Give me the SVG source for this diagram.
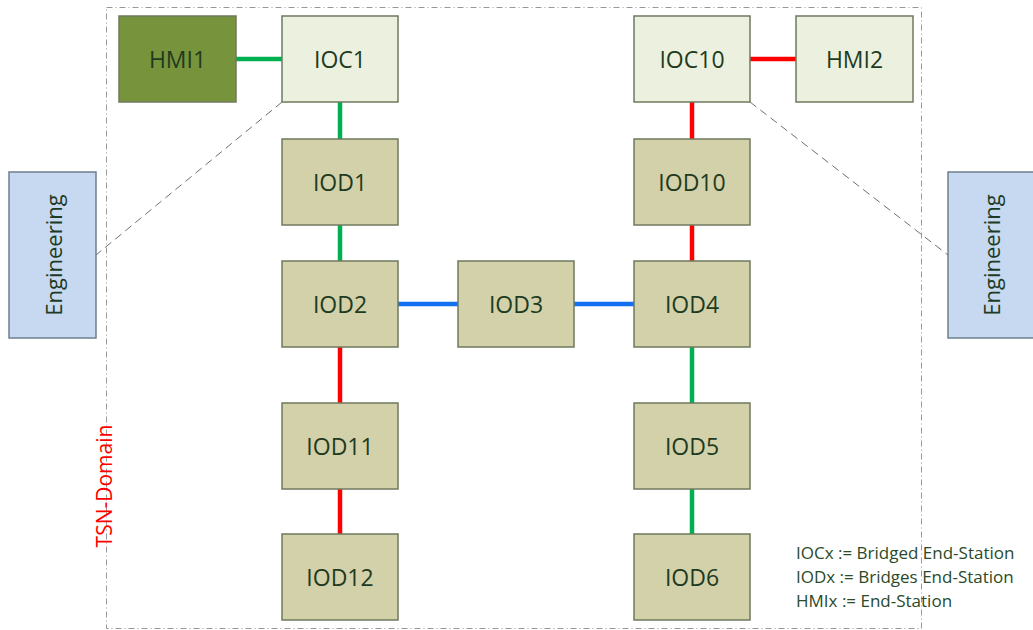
<svg xmlns="http://www.w3.org/2000/svg" width="1033" height="630" viewBox="0 0 1033 630">
<style>
.node{stroke:#6F7A5E;stroke-width:1.5}
.ioc{fill:#EBF1DE}
.iod{fill:#D3D1A9}
.hmi1{fill:#77933C}
.eng{fill:#C6D9F1;stroke:#6F7F8F;stroke-width:1.5}
.lbl{font-family:"Open Sans","Liberation Sans",sans-serif;font-size:23px;fill:#1F3B1F;text-anchor:middle;dominant-baseline:central}
.engl{font-family:"Open Sans","Liberation Sans",sans-serif;font-size:22px;fill:#1F3B1F;text-anchor:middle;dominant-baseline:central}
.leg{font-family:"Open Sans","Liberation Sans",sans-serif;font-size:17px;fill:#2A4A2A}
.g{stroke:#00B050;stroke-width:4.5;fill:none}
.r{stroke:#FF0000;stroke-width:4.5;fill:none}
.b{stroke:#1070F0;stroke-width:4.5;fill:none}
.dash{stroke:#707070;stroke-width:1;stroke-dasharray:8 5;fill:none}
</style>
<rect width="1033" height="630" fill="#FFFFFF"/>
<g id="tsn-domain">
<rect x="106.5" y="7.5" width="815" height="621" fill="none" stroke="#999" stroke-width="1" stroke-dasharray="6 3 1 3"/>
<text x="104" y="486" transform="rotate(-90 104 486)" font-family="'Open Sans','Liberation Sans',sans-serif" font-size="21" fill="#FF0000" text-anchor="middle" dominant-baseline="central">TSN-Domain</text>
</g>
<g id="connectors">
<line class="g" x1="236" y1="59" x2="282" y2="59"/>
<line class="g" x1="340" y1="102" x2="340" y2="139"/>
<line class="g" x1="340" y1="225" x2="340" y2="261"/>
<line class="b" x1="398" y1="304" x2="458" y2="304"/>
<line class="b" x1="574" y1="304" x2="634" y2="304"/>
<line class="r" x1="340" y1="347" x2="340" y2="403"/>
<line class="r" x1="340" y1="489" x2="340" y2="534"/>
<line class="r" x1="750" y1="59" x2="796" y2="59"/>
<line class="r" x1="692" y1="102" x2="692" y2="139"/>
<line class="r" x1="692" y1="225" x2="692" y2="261"/>
<line class="g" x1="692" y1="347" x2="692" y2="403"/>
<line class="g" x1="692" y1="489" x2="692" y2="534"/>
<line class="dash" x1="282" y1="102" x2="96" y2="255"/>
<line class="dash" x1="750" y1="102" x2="948" y2="255"/>
</g>
<g id="HMI1"><rect class="node hmi1" x="119" y="16" width="117" height="86"/><text class="lbl" x="177.5" y="59">HMI1</text></g>
<g id="IOC1"><rect class="node ioc" x="282" y="16" width="116" height="86"/><text class="lbl" x="340" y="59">IOC1</text></g>
<g id="IOD1"><rect class="node iod" x="282" y="139" width="116" height="86"/><text class="lbl" x="340" y="182">IOD1</text></g>
<g id="IOD2"><rect class="node iod" x="282" y="261" width="116" height="86"/><text class="lbl" x="340" y="304">IOD2</text></g>
<g id="IOD3"><rect class="node iod" x="458" y="261" width="116" height="86"/><text class="lbl" x="516" y="304">IOD3</text></g>
<g id="IOD4"><rect class="node iod" x="634" y="261" width="116" height="86"/><text class="lbl" x="692" y="304">IOD4</text></g>
<g id="IOD11"><rect class="node iod" x="282" y="403" width="116" height="86"/><text class="lbl" x="340" y="446">IOD11</text></g>
<g id="IOD12"><rect class="node iod" x="282" y="534" width="116" height="86"/><text class="lbl" x="340" y="577">IOD12</text></g>
<g id="IOC10"><rect class="node ioc" x="634" y="16" width="116" height="86"/><text class="lbl" x="692" y="59">IOC10</text></g>
<g id="HMI2"><rect class="node ioc" x="796" y="16" width="117" height="86"/><text class="lbl" x="854.5" y="59">HMI2</text></g>
<g id="IOD10"><rect class="node iod" x="634" y="139" width="116" height="86"/><text class="lbl" x="692" y="182">IOD10</text></g>
<g id="IOD5"><rect class="node iod" x="634" y="403" width="116" height="86"/><text class="lbl" x="692" y="446">IOD5</text></g>
<g id="IOD6"><rect class="node iod" x="634" y="534" width="116" height="86"/><text class="lbl" x="692" y="577">IOD6</text></g>
<g id="Engineering-left"><rect class="eng" x="9" y="172" width="87" height="166"/><text class="engl" x="52.5" y="255" transform="rotate(-90 52.5 255)">Engineering</text></g>
<g id="Engineering-right"><rect class="eng" x="948" y="172" width="90" height="166"/><text class="engl" x="990.5" y="255" transform="rotate(-90 990.5 255)">Engineering</text></g>
<g id="legend">
<text class="leg" x="796" y="559">IOCx := Bridged End-Station</text>
<text class="leg" x="796" y="583">IODx := Bridges End-Station</text>
<text class="leg" x="796" y="607">HMIx := End-Station</text>
</g>
</svg>
